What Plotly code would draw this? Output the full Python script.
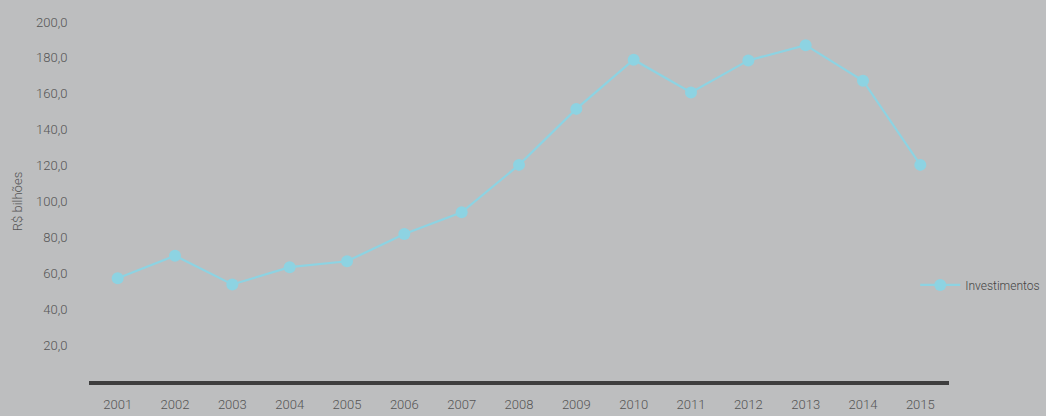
import plotly.graph_objects as go

years = ["2001", "2002", "2003", "2004", "2005", "2006", "2007", "2008",
         "2009", "2010", "2011", "2012", "2013", "2014", "2015"]
investimentos = [57.3, 69.8, 53.8, 63.4, 66.7, 81.9, 94.0, 120.4,
                 151.6, 179.0, 160.7, 178.6, 187.1, 167.3, 120.4]
y_ticks = [20, 40, 60, 80, 100, 120, 140, 160, 180, 200]

BG = "#bdbebf"
LINE = "#8dd3e2"
TXT = "#555555"
FONT = "Roboto"

fig = go.Figure()
fig.add_trace(go.Scatter(
    x=years, y=investimentos, name="Investimentos",
    mode="lines+markers",
    line=dict(color=LINE, width=2.2),
    marker=dict(color=LINE, size=12, symbol="circle"),
))

fig.update_layout(
    width=1046, height=416,
    paper_bgcolor=BG, plot_bgcolor=BG,
    separators=",.",
    margin=dict(l=89, r=97, t=22, b=35, autoexpand=False),
    font=dict(family=FONT, size=13, color=TXT, weight=300),
    showlegend=True,
    legend=dict(
        xref="container", yref="container",
        x=0.875, y=0.315, xanchor="left", yanchor="middle",
        bgcolor="rgba(0,0,0,0)", itemwidth=40,
        font=dict(family=FONT, size=12, color="#444444", weight=300),
    ),
    xaxis=dict(
        type="category", range=[-0.5, len(years) - 0.5],
        showgrid=False, zeroline=False, automargin=False,
        showline=True, linecolor="#3e3e3e", linewidth=4,
        ticks="outside", ticklen=8, tickcolor="rgba(0,0,0,0)",
        tickfont=dict(family=FONT, size=13, color=TXT, weight=300),
    ),
    yaxis=dict(
        range=[0, 200], showgrid=False, zeroline=False, showline=False,
        automargin=False,
        tickvals=y_ticks, tickformat=".1f",
        ticks="outside", ticklen=18, tickcolor="rgba(0,0,0,0)",
        tickfont=dict(family=FONT, size=13, color=TXT, weight=300),
        title=dict(text="R$ bilhões", standoff=10,
                   font=dict(family=FONT, size=13, color=TXT, weight=300)),
    ),
)

fig.write_html(
    "out.html",
    config={"displayModeBar": False},
    post_script="document.body.style.margin='0';document.body.style.overflow='hidden';",
)
